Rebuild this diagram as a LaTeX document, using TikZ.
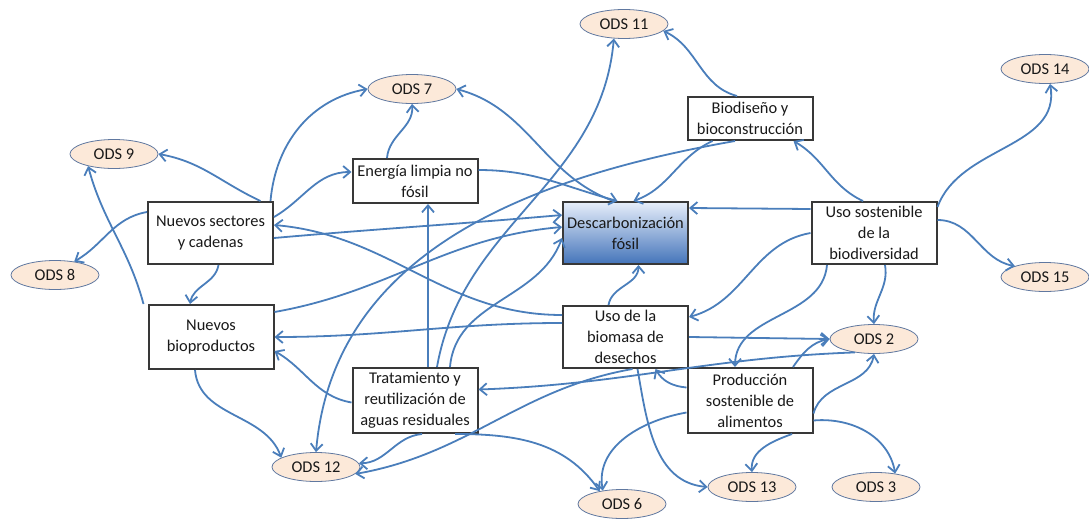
\documentclass[tikz,border=0pt]{standalone}
\usepackage{fontspec}
\setmainfont{Carlito}
\usepackage{tikz}
\usetikzlibrary{shapes.geometric,arrows.meta}

\definecolor{linkblue}{RGB}{74,126,187}
\definecolor{odsfill}{RGB}{252,233,217}
\definecolor{odsline}{RGB}{96,120,160}
\definecolor{boxline}{RGB}{56,56,56}
\definecolor{decotop}{RGB}{230,238,250}
\definecolor{decobot}{RGB}{68,116,186}

\begin{document}
\begin{tikzpicture}[x=1pt,y=1pt]
\tikzstyle{every node}+=[inner sep=1pt,font=\fontsize{16.4}{21}\selectfont,text=black!90]
\tikzstyle{topic}=[draw=boxline,line width=2pt,fill=white,align=center,minimum width=125pt,minimum height=62pt]
\tikzstyle{ods}=[ellipse,draw=odsline,line width=0.8pt,fill=odsfill,minimum width=88pt,minimum height=29pt]
\tikzstyle{link}=[linkblue,line width=1.8pt,-{Straight Barb[length=7pt,width=12pt]}]
\useasboundingbox (0,0) rectangle (1089,-519);
% objetivos
\node [ods] (o11) at (624,-24) {ODS 11};
\node [ods] (o7) at (412,-89) {ODS 7};
\node [ods] (o9) at (114,-154) {ODS 9};
\node [ods] (o14) at (1045,-69) {ODS 14};
\node [ods] (o8) at (55,-275) {ODS 8};
\node [ods] (o15) at (1045,-277) {ODS 15};
\node [ods] (o2) at (874,-339) {ODS 2};
\node [ods] (o12) at (316,-467) {ODS 12};
\node [ods] (o13) at (752,-487) {ODS 13};
\node [ods] (o3) at (876,-487) {ODS 3};
\node [ods] (o6) at (622,-504) {ODS 6};
% lineas
\node [topic] (ns) at (210.5,-233) {Nuevos sectores\\y cadenas};
\node [topic,minimum height=44pt] (el) at (415,-181) {Energía limpia no\\fósil};
\node [topic,top color=decotop,bottom color=decobot] (df) at (625.5,-233) {Descarbonización\\fósil};
\node [topic,minimum height=43pt] (bb) at (750,-118.5) {Biodiseño y\\bioconstrucción};
\node [topic] (us) at (874,-233) {Uso sostenible\\de la\\biodiversidad};
\node [topic,minimum height=64pt] (nb) at (211,-337) {Nuevos\\bioproductos};
\node [topic] (ub) at (625.5,-337) {Uso de la\\biomasa de\\desechos};
\node [topic,minimum height=65pt] (tr) at (415,-400.5) {Tratamiento y\\reutilización de\\aguas residuales};
\node [topic,minimum height=65pt] (ps) at (750,-400.5) {Producción\\sostenible de\\alimentos};
% relaciones
\draw [link] ([xshift=50pt]ns.north) to [out=155,in=-10] (o9.east);
\draw [link] ([xshift=60pt]ns.north) to [out=85,in=190] (o7.west);
\draw [link] ([yshift=16pt]ns.east) to [out=30,in=180] ([yshift=9pt]el.west);
\draw [link] ([yshift=21pt]ns.west) to [out=190,in=30] (o8.35);
\draw [link] ([xshift=8pt]ns.south) to [out=-100,in=80] ([xshift=-21pt]nb.north);
\draw [link] ([yshift=-5pt]ns.east) to [out=5,in=185] ([yshift=18pt]df.west);
\draw [link] ([yshift=22pt]ub.west) to [out=180,in=-5] ([yshift=8pt]ns.east);
\draw [link] ([xshift=-4pt]nb.north west) to [out=105,in=-75] (o9.205);
\draw [link] ([yshift=25pt]nb.east) to [out=10,in=185] ([yshift=6pt]df.west);
\draw [link] ([xshift=-16pt]nb.south) to [out=-85,in=110] (o12.165);
\draw [link] ([xshift=-28pt]el.north) to [out=85,in=-85] (o7.south);
\draw [link] ([yshift=11pt]el.east) to [out=0,in=165] ([xshift=-8pt]df.north);
\draw [link] ([xshift=-12pt]df.north) to [out=160,in=-15] (o7.east);
\draw [link] ([xshift=-13pt]bb.north) to [out=165,in=-25] (o11.-10);
\draw [link] ([xshift=26pt]bb.south west) to [out=205,in=20] ([xshift=8pt]df.north);
\draw [link] ([xshift=-15pt]bb.south) to [out=190,in=85] (o12.north);
\draw [link] ([xshift=-11pt]us.north) to [out=155,in=-30] ([xshift=-20pt]bb.south east);
\draw [link] ([yshift=24pt]us.west) -- ([yshift=25pt]df.east);
\draw [link] ([yshift=-6pt]us.north east) to [out=70,in=-80] ([xshift=5pt]o14.south);
\draw [link] ([yshift=13pt]us.east) to [out=0,in=170] (o15.160);
\draw [link] (us.west) to [out=190,in=15] ([yshift=20pt]ub.east);
\draw [link] ([xshift=-47pt]us.south) to [out=-95,in=90] ([xshift=-15pt]ps.north);
\draw [link] ([xshift=11pt]us.south) to [out=-80,in=95] (o2.north);
\draw [link] ([xshift=-17pt]ub.north) to [out=80,in=-90] ([xshift=13pt]df.south);
\draw [link] ([yshift=14pt]ub.west) to [out=180,in=0] (nb.east);
\draw [link] (ub.east) -- (o2.west);
\draw [link] ([xshift=12pt]ub.south) to [out=-80,in=175] (o13.west);
\draw [link] ([xshift=7pt]ub.south) to [out=190,in=10] (o12.-10);
\draw [link] ([yshift=-2pt]tr.west) to [out=170,in=-30] ([yshift=-14pt]nb.east);
\draw [link] ([xshift=13pt]tr.north) -- ([xshift=13pt]el.south);
\draw [link] ([xshift=22pt]tr.north) to [out=80,in=-95] (o11.235);
\draw [link] ([xshift=35pt]tr.north) to [out=85,in=-110] ([yshift=-5pt]df.west);
\draw [link] ([xshift=7pt]tr.south) to [out=185,in=0] (o12.5);
\draw [link] ([xshift=40pt]tr.south) to [out=0,in=125] (o6.150);
\draw [link] ([yshift=13pt]ps.west) to [out=175,in=-60] ([xshift=30pt]ub.south);
\draw [link] ([xshift=43pt]ps.north) to [out=55,in=190] (o2.west);
\draw [link] ([yshift=-13pt]ps.east) to [out=75,in=-100] (o2.south);
\draw [link] ([yshift=-12pt]ps.west) to [out=190,in=100] (o6.145);
\draw [link] ([xshift=42pt]ps.south) to [out=200,in=95] (o13.north);
\draw [link] ([yshift=-20pt]ps.east) to [out=5,in=100] (o3.35);
\draw [link] (o2.215) to [out=182,in=2] ([yshift=11pt]tr.east);
\end{tikzpicture}
\end{document}
